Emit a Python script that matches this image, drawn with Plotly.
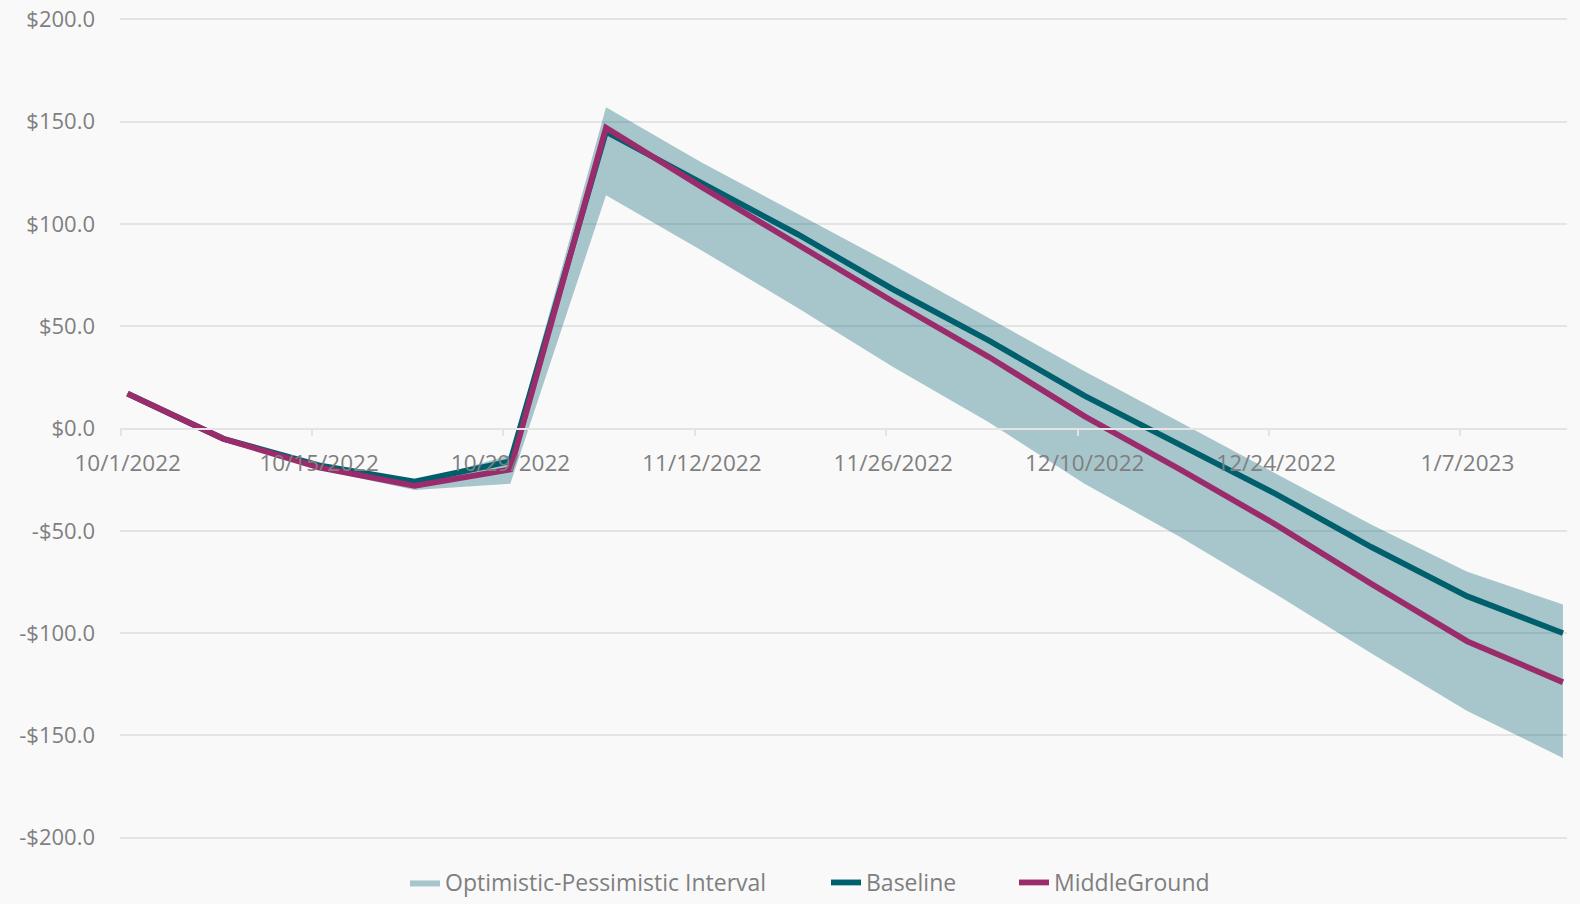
import plotly.graph_objects as go
import pandas as pd

dates = ["2022-10-01", "2022-10-08", "2022-10-15", "2022-10-22", "2022-10-29",
         "2022-11-05", "2022-11-12", "2022-11-19", "2022-11-26", "2022-12-03",
         "2022-12-10", "2022-12-17", "2022-12-24", "2022-12-31", "2023-01-07",
         "2023-01-14"]
baseline = [17, -5, -18, -26, -16, 145, 120, 95, 68, 43, 16, -8, -32, -58, -82, -100]
middleground = [17, -5, -19, -28, -20, 147, 118, 90, 62, 35, 6, -20, -47, -76, -104, -124]
interval_upper = [17, -5, -18, -26, -13, 157, 130, 105, 80, 54, 28, 3, -22, -47, -70, -86]
interval_lower = [17, -5, -20, -30, -27, 114, 87, 59, 30, 3, -27, -53, -81, -110, -138, -161]

tick_dates = ["2022-10-01", "2022-10-15", "2022-10-29", "2022-11-12", "2022-11-26",
              "2022-12-10", "2022-12-24", "2023-01-07"]
tick_text = ["10/1/2022", "10/15/2022", "10/29/2022", "11/12/2022", "11/26/2022",
             "12/10/2022", "12/24/2022", "1/7/2023"]
y_ticks = [200, 150, 100, 50, 0, -50, -100, -150, -200]
y_text = ["$200.0", "$150.0", "$100.0", "$50.0", "$0.0", "-$50.0", "-$100.0", "-$150.0", "-$200.0"]

BAND = "rgba(0,95,110,0.33)"
C_BASE = "#005f6c"
C_MID = "#9b2c6b"
FONT = "Open Sans"
GRID = "#e4e4e4"
TXT = "#7f7f7f"

# Excel date axis: each day's point sits in the middle of its day slot
xs = pd.to_datetime(dates) + pd.Timedelta(hours=12)

fig = go.Figure()
fig.add_trace(go.Scatter(x=xs, y=interval_lower, mode="lines", line=dict(width=0, color=BAND),
                         showlegend=False, hoverinfo="skip"))
fig.add_trace(go.Scatter(x=xs, y=interval_upper, mode="lines", line=dict(width=0, color=BAND),
                         fill="tonexty", fillcolor=BAND, name="Optimistic-Pessimistic Interval",
                         legend="legend"))
fig.add_trace(go.Scatter(x=xs, y=baseline, mode="lines", line=dict(width=5.8, color=C_BASE),
                         name="Baseline", legend="legend2"))
fig.add_trace(go.Scatter(x=xs, y=middleground, mode="lines", line=dict(width=5.8, color=C_MID),
                         name="MiddleGround", legend="legend3"))

x0 = pd.Timestamp("2022-10-01") - pd.Timedelta(hours=1.2)
x1 = pd.Timestamp("2023-01-15") - pd.Timedelta(hours=4.9)

leg_common = dict(orientation="h", xref="container", yref="container", xanchor="left",
                  y=0.0, yanchor="bottom", font=dict(family=FONT, size=23, color=TXT),
                  bgcolor="rgba(0,0,0,0)")

fig.update_layout(
    width=1580, height=904,
    margin=dict(l=120, r=13, t=18, b=65, autoexpand=False),
    paper_bgcolor="#f9f9f9", plot_bgcolor="#f9f9f9",
    font=dict(family=FONT, size=22.5, color=TXT),
    xaxis=dict(range=[x0, x1], tickvals=pd.to_datetime(tick_dates), ticktext=tick_text,
               showgrid=False, anchor="free", position=0.5, showline=True, linecolor=GRID,
               linewidth=2, ticks="outside", ticklen=6, tickwidth=2, tickcolor=GRID,
               ticklabelshift=7, ticklabelstandoff=8, zeroline=False, automargin=False,
               tickfont=dict(family=FONT, size=22.5, color=TXT)),
    yaxis=dict(range=[-200.6, 200.6], tickvals=y_ticks, ticktext=y_text, showgrid=True,
               gridcolor=GRID, gridwidth=2, zeroline=False, ticklabelstandoff=24, automargin=False,
               tickfont=dict(family=FONT, size=22, color=TXT)),
    legend=dict(x=(450 - 45) / 1580, **leg_common),
    legend2=dict(x=(871 - 45) / 1580, **leg_common),
    legend3=dict(x=(1059 - 45) / 1580, **leg_common),
    showlegend=True,
)

fig.write_html("out.html")
